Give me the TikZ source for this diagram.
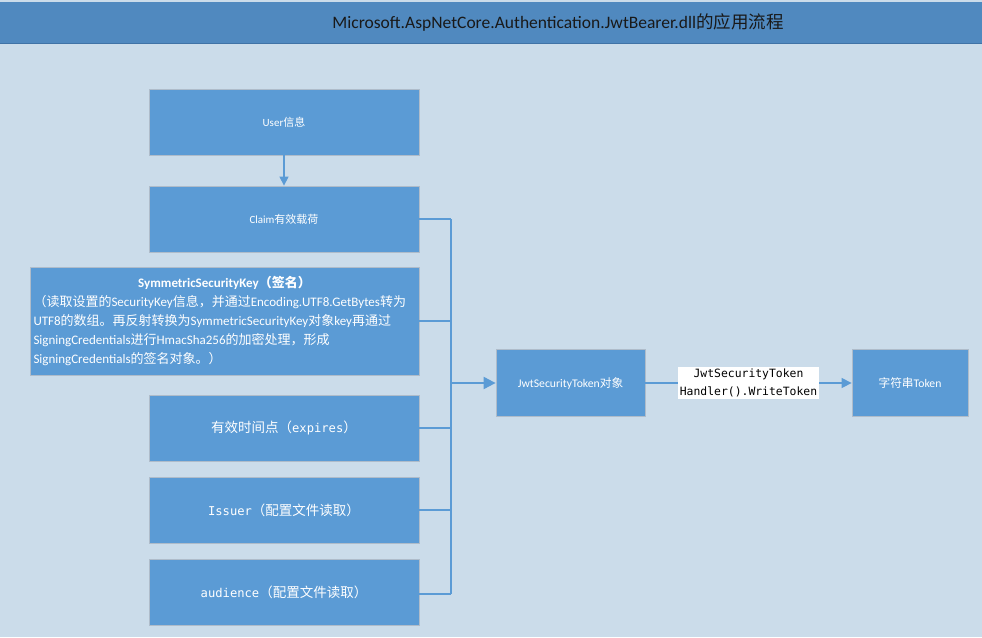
\documentclass[tikz,border=0pt]{standalone}
\usepackage{fontspec}
\setmainfont{Carlito}
\newfontfamily\cjk{Noto Sans CJK SC}
\setmonofont{DejaVu Sans Mono}
\newfontfamily\boxmono[Scale=0.9]{DejaVu Sans Mono}
\usetikzlibrary{arrows.meta, positioning}
\definecolor{cBack}{RGB}{203,220,234}
\definecolor{cBar}{RGB}{80,137,191}
\definecolor{cBarEdge}{RGB}{64,115,166}
\definecolor{cBox}{RGB}{91,155,213}
\definecolor{cEdge}{RGB}{175,188,202}
\definecolor{cLine}{RGB}{91,155,213}

\begin{document}
\begin{tikzpicture}[
      x=1pt, y=-1pt,
      box/.style={draw=cEdge, fill=cBox, text=white, line width=0.8pt,
                  minimum width=270pt, minimum height=66pt, inner sep=0pt,
                  align=center, font=\fontsize{11}{13}\selectfont},
      bigbox/.style={box, font=\fontsize{13.5}{16}\selectfont\boxmono},
      keybox/.style={box, minimum width=389pt, minimum height=108pt,
                     text width=382pt, align=left,
                     font=\fontsize{13}{19}\selectfont},
      smallbox/.style={box, minimum height=67pt,
                       font=\fontsize{11.7}{14}\selectfont},
      lbl/.style={fill=white, inner sep=1.5pt, align=center,
                  font=\ttfamily\fontsize{11.4}{18}\selectfont},
      link/.style={draw=cLine, line width=1.3pt},
      bus/.style={draw=cLine, line width=2pt},
      >={Triangle[length=10pt, width=10pt]}]
    % background and title bar
    \useasboundingbox (0,0) rectangle (982,637);
    \fill[cBack] (0,0) rectangle (982,637);
    \fill[cBar] (0,2) rectangle (982,43);
    \draw[cBarEdge, line width=1pt] (0,43) -- (982,43);
    \node[font=\fontsize{17.5}{19}\selectfont, text=black!90] (title) at (558,22)
      {Microsoft.AspNetCore.Authentication.JwtBearer.dll{\cjk 的应用流程}};

    % inputs
    \node[box] (user)  at (284,122) {User{\cjk 信息}};
    \node[box] (claim) at (284,219) {Claim{\cjk 有效载荷}};
    \node[keybox] (key) at (224.5,321) {%
      \makebox[\linewidth][c]{\bfseries SymmetricSecurityKey{\cjk （签名）}}\\
      {\cjk （读取设置的}SecurityKey{\cjk 信息，并通过}Encoding.UTF8.GetBytes{\cjk 转为}\\
      UTF8{\cjk 的数组。再反射转换为}SymmetricSecurityKey{\cjk 对象}key{\cjk 再通过}\\
      SigningCredentials{\cjk 进行}HmacSha256{\cjk 的加密处理，形成}\\
      SigningCredentials{\cjk 的签名对象。）}};
    \node[bigbox] (expires)  at (284,428) {{\cjk 有效时间点（}expires{\cjk ）}};
    \node[bigbox] (issuer)   at (284,510) {Issuer{\cjk （配置文件读取）}};
    \node[bigbox] (audience) at (284,592) {audience{\cjk （配置文件读取）}};

    % outputs
    \node[smallbox, minimum width=149pt] (jwt) at (570.5,383)
      {JwtSecurityToken{\cjk 对象}};
    \node[smallbox, minimum width=116pt] (str) at (910,383)
      {{\cjk 字符串}Token};

    \coordinate (hub) at (451,383);

    % connectors
    \draw[link, ->, >={Triangle[length=9pt, width=9pt]}] (user) -- (claim);
    \draw[link] (claim.east) -- (claim.east -| hub);
    \draw[link] (key.east) -- (key.east -| hub);
    \draw[link] (expires.east) -- (expires.east -| hub);
    \draw[link] (issuer.east) -- (issuer.east -| hub);
    \draw[link] ([yshift=-2pt]audience.east) -- ([yshift=-2pt]audience.east -| hub);
    \draw[bus] (claim.east -| hub) -- ([yshift=-2pt]audience.east -| hub);
    \draw[bus, ->, >={Triangle[length=12pt, width=12pt]}] (hub) -- (jwt);
    \draw[link, ->] (jwt) -- node[lbl] (write)
      {JwtSecurityToken\\Handler().WriteToken} (str);
\end{tikzpicture}
\end{document}
